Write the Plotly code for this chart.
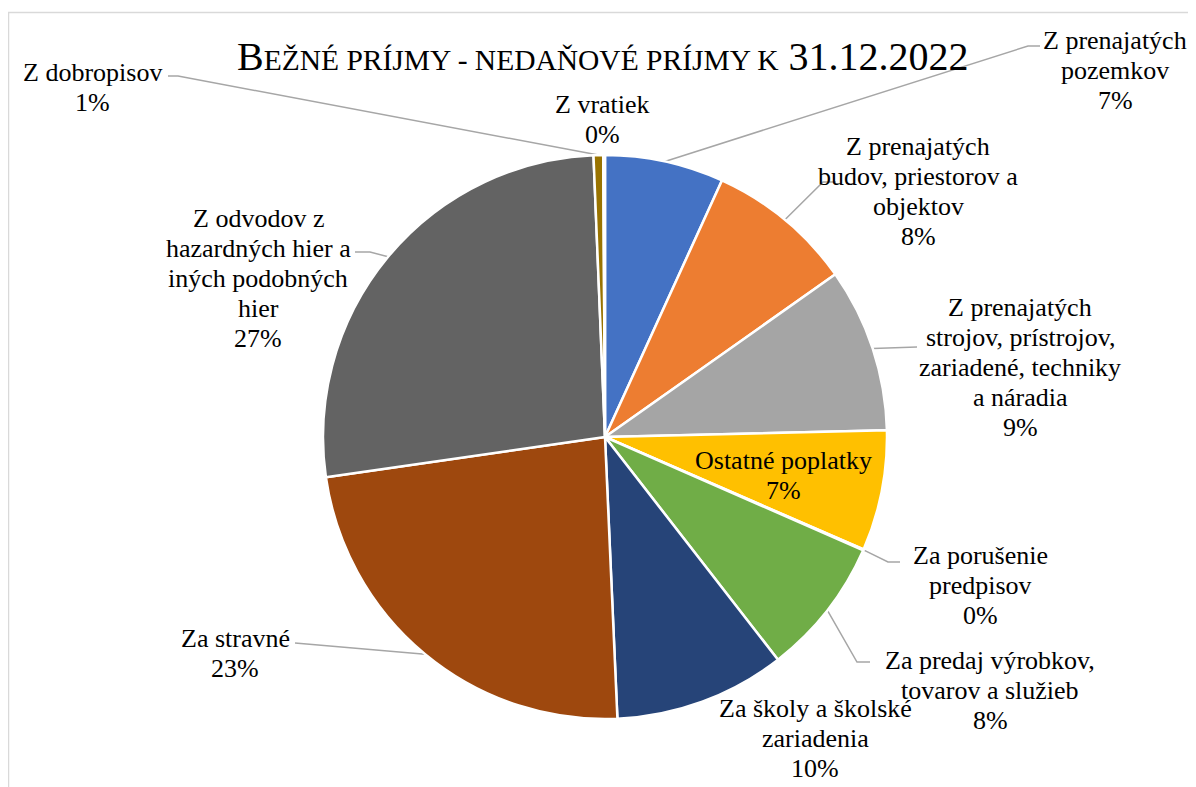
import math
import plotly.graph_objects as go

# ---- data ----
categories = [
    "Z prenajatých pozemkov",
    "Z prenajatých budov, priestorov a objektov",
    "Z prenajatých strojov, prístrojov, zariadené, techniky a náradia",
    "Ostatné poplatky",
    "Za porušenie predpisov",
    "Za predaj výrobkov, tovarov a služieb",
    "Za školy a školské zariadenia",
    "Za stravné",
    "Z odvodov z hazardných hier a iných podobných hier",
    "Z dobropisov",
    "Z vratiek",
]
values = [6.8, 8.4, 9.4, 6.9, 0.05, 7.9, 9.8, 23.4, 26.6, 0.55, 0.1]

# display wrapping of category names (as in the original chart)
wrapped = [
    ["Z prenajatých", "pozemkov"],
    ["Z prenajatých", "budov, priestorov a", "objektov"],
    ["Z prenajatých", "strojov, prístrojov,", "zariadené, techniky", "a náradia"],
    ["Ostatné poplatky"],
    ["Za porušenie", "predpisov"],
    ["Za predaj výrobkov,", "tovarov a služieb"],
    ["Za školy a školské", "zariadenia"],
    ["Za stravné"],
    ["Z odvodov z", "hazardných hier a", "iných podobných", "hier"],
    ["Z dobropisov"],
    ["Z vratiek"],
]

# ---- styles / layout (reference pixel coordinates) ----
colors = ["#4472C4", "#ED7D31", "#A5A5A5", "#FFC000", "#5B9BD5", "#70AD47",
          "#264478", "#9E480E", "#636363", "#997300", "#255E91"]
W, H = 1196, 787
OFF = 8  # page body margin
CX, CY, R = 605, 437, 282
FONT = "Liberation Serif"
FS = 26
LS = 30  # line spacing in px

# label block: centre x, centre y of first line
label_pos = [
    (1115, 40), (918, 146), (1020, 307), (783, 460), (980, 555), (990, 660),
    (815, 708), (235, 638), (258, 218), (92, 72), (602, 104),
]
# leader line start points (text side); None = no leader
leader_start = [
    [(1040, 46), (1028, 46)],
    [(836, 182), (823, 182)],
    [(917, 347)],
    None,
    [(900, 562), (888, 562)],
    [(870, 662), (857, 662)],
    None,
    [(295, 643)],
    [(355, 252), (370, 252)],
    [(168, 76), (178, 76)],
    None,
]

total = sum(values)
fig = go.Figure()

fig.add_trace(go.Pie(
    labels=categories, values=values, sort=False, direction="clockwise",
    rotation=0, textinfo="none", hoverinfo="label+percent",
    marker=dict(colors=colors, line=dict(color="white", width=2.5)),
    domain=dict(x=[(CX - OFF - R) / W, (CX - OFF + R) / W],
                y=[(H - (CY - OFF) - R) / H, (H - (CY - OFF) + R) / H]),
    showlegend=False,
))

# leader lines computed from slice mid-angles
lx, ly = [], []
cum = 0
for i, v in enumerate(values):
    mid = (cum + v / 2) / total * 2 * math.pi
    cum += v
    ex = CX + R * math.sin(mid)
    ey = CY - R * math.cos(mid)
    if leader_start[i]:
        for (px, py) in leader_start[i]:
            lx.append(px); ly.append(py)
        lx.append(ex); ly.append(ey)
        lx.append(None); ly.append(None)

fig.add_trace(go.Scatter(x=lx, y=ly, mode="lines",
                         line=dict(color="#A6A6A6", width=1.5),
                         hoverinfo="skip", showlegend=False))

annotations = []
for i, v in enumerate(values):
    pct = round(v / total * 100)
    lines = wrapped[i] + [f"{pct}%"]
    x0, y0 = label_pos[i]
    for k, line in enumerate(lines):
        annotations.append(dict(
            x=x0, y=y0 + k * LS, xref="x", yref="y", text=line,
            showarrow=False, xanchor="center", yanchor="middle",
            font=dict(family=FONT, size=FS, color="black"),
        ))

annotations.append(dict(
    x=603, y=56, xref="x", yref="y", showarrow=False,
    xanchor="center", yanchor="middle",
    text="B<span style='font-size:29.5px'>EŽNÉ PRÍJMY - NEDAŇOVÉ PRÍJMY K</span> 31.12.2022",
    font=dict(family=FONT, size=40, color="black"),
))

fig.update_layout(
    width=W, height=H, margin=dict(l=0, r=0, t=0, b=0),
    paper_bgcolor="white", plot_bgcolor="white",
    xaxis=dict(range=[OFF, W + OFF], visible=False, fixedrange=True),
    yaxis=dict(range=[H + OFF, OFF], visible=False, fixedrange=True),
    annotations=annotations,
    shapes=[dict(type="rect", xref="x", yref="y", x0=8.5, y0=12.5, x1=1300, y1=900,
                 line=dict(color="#D9D9D9", width=1.5), layer="below")],
)

fig.write_html("out.html")
